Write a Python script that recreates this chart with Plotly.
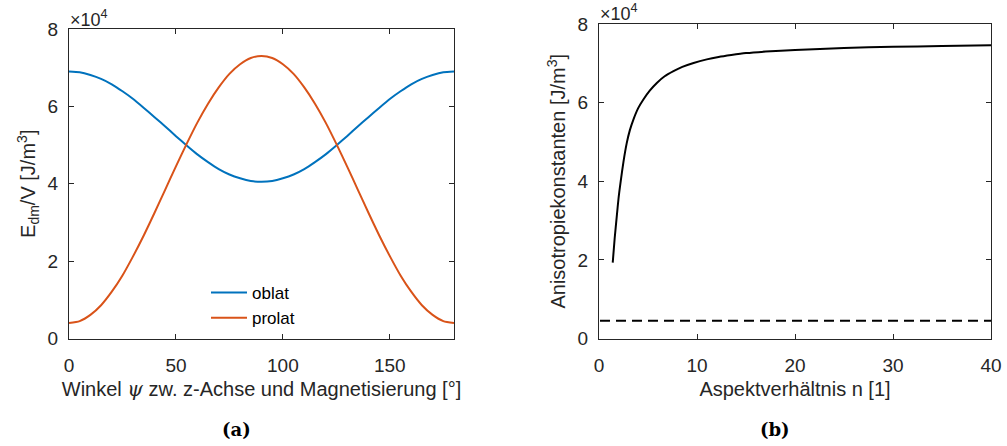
import plotly.graph_objects as go

# ---- data (a): energy density vs angle (x1e4 J/m^3) ----
psi_deg = [0, 5, 10, 15, 20, 25, 30, 35, 40, 45, 50, 55, 60, 65, 70, 75, 80, 85, 90,
           95, 100, 105, 110, 115, 120, 125, 130, 135, 140, 145, 150, 155, 160, 165, 170, 175, 180]
oblat = [6.90, 6.88, 6.81, 6.71, 6.57, 6.39, 6.19, 5.96, 5.72, 5.48, 5.23, 4.99, 4.76, 4.56, 4.38, 4.24, 4.14, 4.07, 4.05,
         4.07, 4.14, 4.24, 4.38, 4.56, 4.76, 4.99, 5.23, 5.48, 5.72, 5.96, 6.19, 6.39, 6.57, 6.71, 6.81, 6.88, 6.90]
prolat = [0.40, 0.45, 0.61, 0.86, 1.21, 1.63, 2.13, 2.67, 3.25, 3.85, 4.45, 5.03, 5.58, 6.07, 6.49, 6.84, 7.09, 7.25, 7.30,
          7.25, 7.09, 6.84, 6.49, 6.07, 5.58, 5.03, 4.45, 3.85, 3.25, 2.67, 2.13, 1.63, 1.21, 0.86, 0.61, 0.45, 0.40]

# ---- data (b): anisotropy constant vs aspect ratio (x1e4 J/m^3) ----
n_aspect = [1.40, 1.60, 1.81, 2.00, 2.22, 2.50, 2.83, 3.15, 3.51, 4.00, 4.53, 5.20, 5.90, 6.70, 7.60, 8.50,
            9.65, 11.0, 12.2, 13.5, 15.0, 17.0, 20.0, 25.0, 30.0, 35.0, 40.0]
k_aniso = [1.93, 2.55, 3.10, 3.58, 4.01, 4.50, 4.97, 5.30, 5.57, 5.86, 6.08, 6.31, 6.50, 6.67, 6.80, 6.91,
           7.01, 7.10, 7.16, 7.21, 7.26, 7.30, 7.34, 7.39, 7.42, 7.44, 7.46]
n_const = [0.1, 40.0]
k_const = [0.45, 0.45]

scale = 1e4
y_ticks = [0, 2, 4, 6, 8]

W, H = 1007, 446
def px(x):
    return x / W
def py(y):
    return 1 - y / H

AX = "#262626"
FONT = "Liberation Sans, Arial, Helvetica, sans-serif"

fig = go.Figure()
fig.add_trace(go.Scatter(x=psi_deg, y=[v * scale for v in oblat], mode="lines", name="oblat",
                         line=dict(color="#0072BD", width=2, shape="spline", smoothing=0.6), xaxis="x", yaxis="y"))
fig.add_trace(go.Scatter(x=psi_deg, y=[v * scale for v in prolat], mode="lines", name="prolat",
                         line=dict(color="#D95319", width=2, shape="spline", smoothing=0.6), xaxis="x", yaxis="y"))
fig.add_trace(go.Scatter(x=n_aspect, y=[v * scale for v in k_aniso], mode="lines", showlegend=False,
                         line=dict(color="black", width=2, shape="spline", smoothing=0.6), xaxis="x2", yaxis="y2"))
fig.add_trace(go.Scatter(x=n_const, y=[v * scale for v in k_const], mode="lines", showlegend=False,
                         line=dict(color="black", width=2, dash="10px,6px"), xaxis="x2", yaxis="y2"))

common = dict(showline=True, linecolor=AX, linewidth=1, mirror="ticks", ticks="inside",
              ticklen=5, tickcolor=AX, showgrid=False, zeroline=False, automargin=False,
              tickfont=dict(family=FONT, size=19, color=AX))
xcommon = dict(ticklabelstandoff=10, **common)
ycommon = dict(ticklabelstandoff=6, **common)
TFONT = dict(family=FONT, size=20, color=AX)

fig.update_layout(
    width=W, height=H, margin=dict(l=0, r=0, t=0, b=0, autoexpand=False),
    paper_bgcolor="white", plot_bgcolor="white",
    font=dict(family=FONT, size=19, color=AX),
    xaxis=dict(domain=[px(69), px(454)], range=[0, 180], anchor="y",
               tickvals=[0, 50, 100, 150],
               title=dict(text="Winkel <span style=\"font-family:'DejaVu Serif'\"><i>ψ</i></span> zw. z-Achse und Magnetisierung [°]",
                          font=TFONT, standoff=6),
               **xcommon),
    yaxis=dict(domain=[py(338.5), py(29)], range=[0, 8 * scale], anchor="x",
               tickvals=[t * scale for t in y_ticks], ticktext=[str(t) for t in y_ticks],
               title=dict(text="E<sub>dm</sub>/V [J/m<sup>3</sup>]", font=TFONT, standoff=6),
               **ycommon),
    xaxis2=dict(domain=[px(599), px(991)], range=[0, 40], anchor="y2",
                tickvals=[0, 10, 20, 30, 40],
                title=dict(text="Aspektverhältnis n [1]", font=TFONT, standoff=6),
                **xcommon),
    yaxis2=dict(domain=[py(338.5), py(24)], range=[0, 8 * scale], anchor="x2",
                tickvals=[t * scale for t in y_ticks], ticktext=[str(t) for t in y_ticks],
                title=dict(text="Anisotropiekonstanten [J/m<sup>3</sup>]", font=TFONT, standoff=6),
                **ycommon),
    legend=dict(x=px(206), y=py(275), xanchor="left", yanchor="top",
                bgcolor="rgba(0,0,0,0)", borderwidth=0,
                font=dict(family=FONT, size=17, color="black"),
                itemwidth=36, tracegroupgap=0),
    showlegend=True,
)

annots = [
    dict(x=px(69), y=py(18), text="×10<sup>4</sup>"),
    dict(x=px(599), y=py(13), text="×10<sup>4</sup>"),
]
for a in annots:
    fig.add_annotation(xref="paper", yref="paper", showarrow=False, xanchor="left", yanchor="middle",
                       borderpad=0, font=dict(family=FONT, size=18, color=AX), **a)

for lbl, xc in [("(a)", 236), ("(b)", 775)]:
    fig.add_annotation(xref="paper", yref="paper", x=px(xc), y=py(429), text="<b>" + lbl + "</b>",
                       showarrow=False, xanchor="center", yanchor="middle",
                       font=dict(family="DejaVu Serif, Liberation Serif, serif", size=18, color="black"))

fig.write_html("out.html")
